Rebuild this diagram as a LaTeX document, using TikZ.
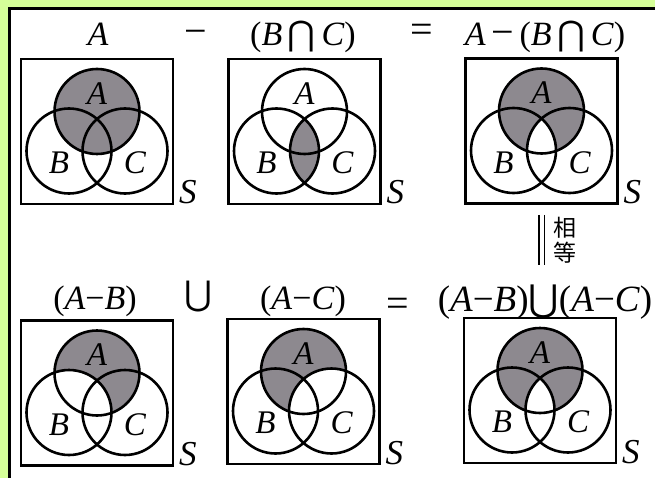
\documentclass[tikz,border=0pt]{standalone}
\usepackage{fontspec}
\setmainfont{Liberation Serif}
\newfontfamily\symf{DejaVu Sans}
\newfontfamily\cjk{Noto Sans CJK SC}
\definecolor{bggreen}{RGB}{214,255,153}
\definecolor{shadec}{RGB}{141,137,143}
\newcommand\venncoords[3]{%
  \coordinate (#1a) at (#2,#3+52.5);
  \coordinate (#1b) at (#2-28,#3+92);
  \coordinate (#1c) at (#2+28,#3+92);}
\newcommand\vennframe[3]{%
  \node[sq] (#1sq) at (#2,#3+72.5) {};
  \draw[ring] (#1a) circle[radius=42.5pt];
  \draw[ring] (#1b) circle[radius=42.5pt];
  \draw[ring] (#1c) circle[radius=42.5pt];
  \node[lab] (#1la) at (#2,#3+34.5) {A};
  \node[lab] (#1lb) at (#2-38,#3+104) {B};
  \node[lab] (#1lc) at (#2+38,#3+104) {C};
  \node[slab] (#1ls) at (#2+82,#3+145) {S};}
\begin{document}
\begin{tikzpicture}[x=1pt,y=-1pt,
  sq/.style={draw,line width=2.9pt,minimum width=152pt,minimum height=145pt,inner sep=0pt},
  ring/.style={draw,line width=2.6pt},
  lab/.style={font=\fontsize{33}{33}\selectfont\itshape,inner sep=0pt},
  slab/.style={font=\fontsize{35}{35}\selectfont\itshape,inner sep=0pt,anchor=base west},
  ttl/.style={font=\fontsize{34}{34}\selectfont,inner sep=0pt,anchor=base},
  op/.style={font=\fontsize{40}{40}\selectfont,inner sep=0pt},
  cj/.style={font=\cjk\fontsize{23}{23}\selectfont,inner sep=0pt}]
\useasboundingbox (0,0) rectangle (655,478);
\clip (0,0) rectangle (655,478);
\fill[bggreen] (0,0) rectangle (655,478);
\draw[line width=3pt,fill=white] (9.5,8.5) rectangle (670,490);
% coordinates
\venncoords{p1}{97}{59}
\venncoords{p2}{304.5}{59}
\venncoords{p3}{541.5}{58.5}
\venncoords{p4}{97}{320.5}
\venncoords{p5}{303.5}{319}
\venncoords{p6}{540}{318}
% shading
\fill[shadec] (p1a) circle[radius=42.5pt];
\begin{scope}
  \clip (p2b) circle[radius=42.5pt];
  \fill[shadec] (p2c) circle[radius=42.5pt];
\end{scope}
\fill[shadec] (p3a) circle[radius=42.5pt];
\begin{scope}
  \clip (p3a) circle[radius=42.5pt];
  \clip (p3b) circle[radius=42.5pt];
  \fill[white] (p3c) circle[radius=42.5pt];
\end{scope}
\begin{scope}
  \clip (p4a) circle[radius=42.5pt];
  \fill[shadec,even odd rule] (p4a) circle[radius=42.5pt] (p4b) circle[radius=42.5pt];
\end{scope}
\begin{scope}
  \clip (p5a) circle[radius=42.5pt];
  \fill[shadec,even odd rule] (p5a) circle[radius=42.5pt] (p5c) circle[radius=42.5pt];
\end{scope}
\fill[shadec] (p6a) circle[radius=42.5pt];
\begin{scope}
  \clip (p6a) circle[radius=42.5pt];
  \clip (p6b) circle[radius=42.5pt];
  \fill[white] (p6c) circle[radius=42.5pt];
\end{scope}
% outlines and labels
\vennframe{p1}{97}{59}
\vennframe{p2}{304.5}{59}
\vennframe{p3}{541.5}{58.5}
\vennframe{p4}{97}{320.5}
\vennframe{p5}{303.5}{319}
\vennframe{p6}{540}{318}
% titles
\node[ttl] (t1) at (98,46) {\textit{A}};
\node[op] (m1) at (196,37) {−};
\node[ttl] (t2) at (303,46) {(\textit{B}\,{\symf ⋂}\,\textit{C})};
\node[op] (e1) at (422,33) {=};
\node[ttl] (t3) at (545,46) {\textit{A}\,{\fontsize{40}{40}\selectfont −}\,(\textit{B}\,{\symf ⋂}\,\textit{C})};
\node[ttl] (t4) at (95,309) {(\textit{A}−\textit{B})};
\node[op,font=\fontsize{34}{34}\selectfont] (u1) at (198,297) {{\symf ⋃}};
\node[ttl] (t5) at (303,309) {(\textit{A}−\textit{C})};
\node[op] (e2) at (398,307) {=};
\node[ttl,font=\fontsize{37}{37}\selectfont] (t6) at (545,311) {(\textit{A}−\textit{B}){\symf ⋃}(\textit{A}−\textit{C})};
% equal sign
\draw[line width=1.6pt] (539,215) -- (539,265);
\draw[line width=1.6pt] (544.5,215) -- (544.5,265);
\node[cj] (xiang) at (565,228) {相};
\node[cj] (deng) at (565,253) {等};
\end{tikzpicture}
\end{document}
